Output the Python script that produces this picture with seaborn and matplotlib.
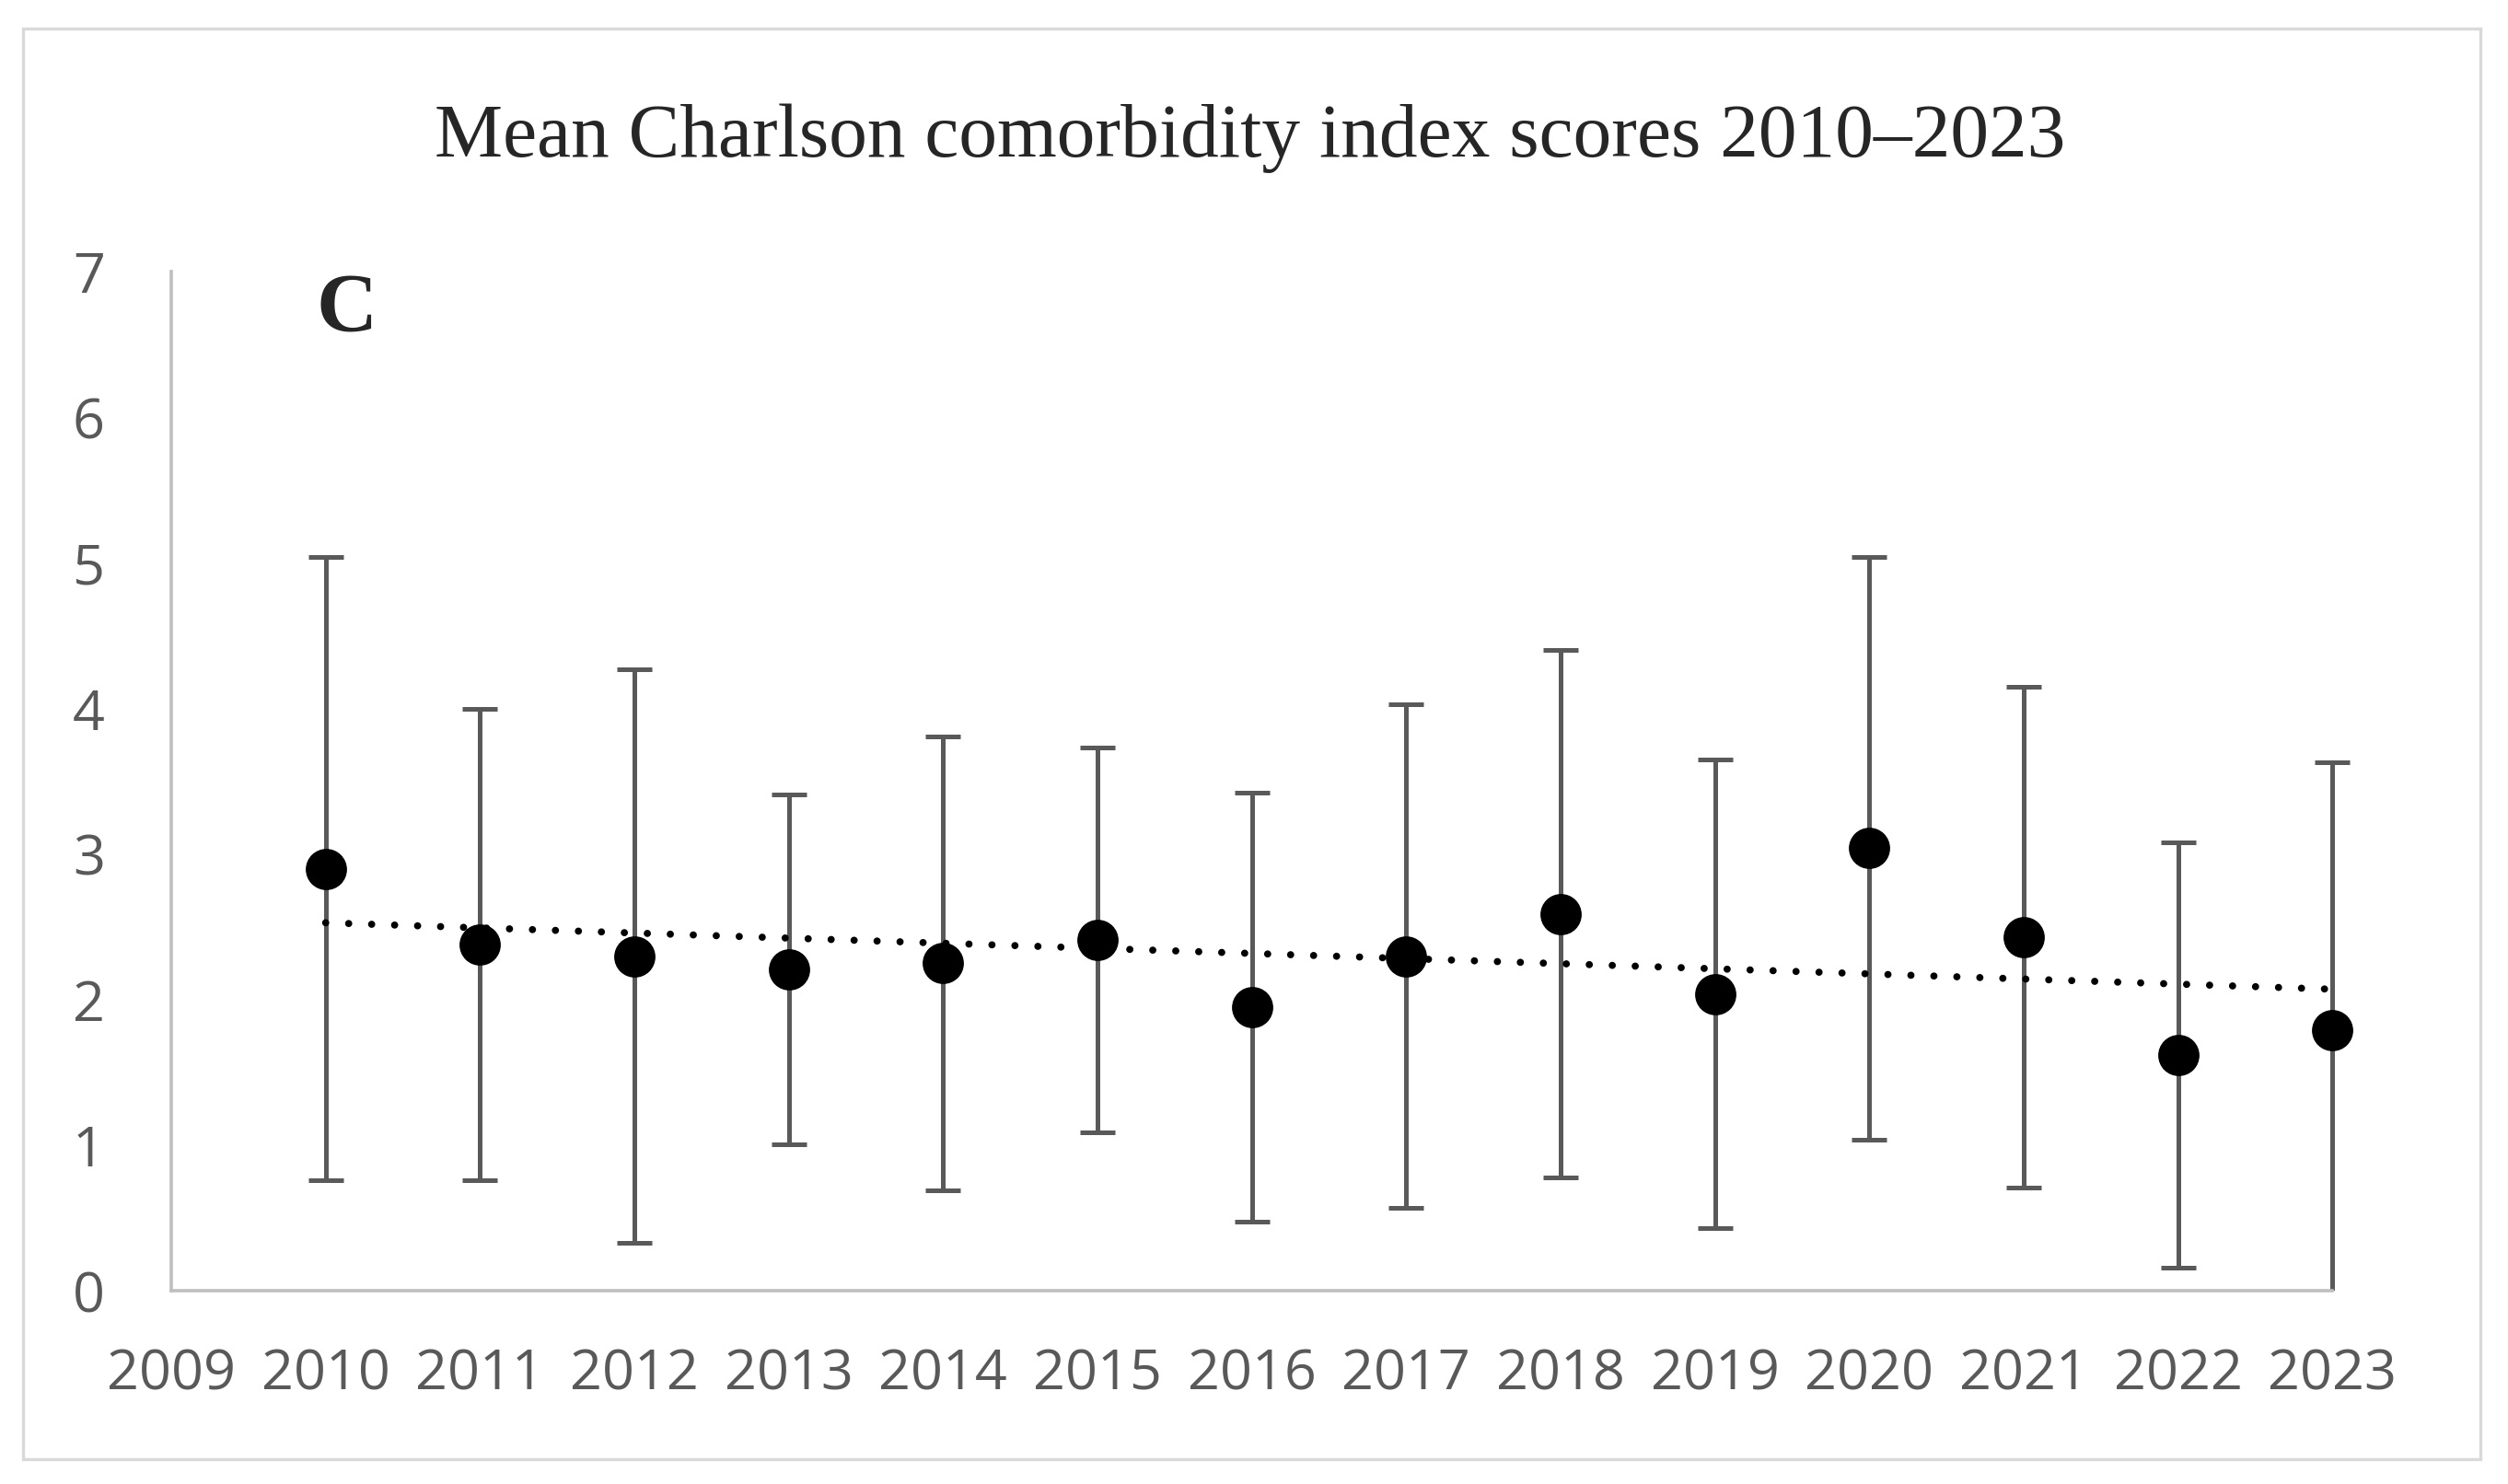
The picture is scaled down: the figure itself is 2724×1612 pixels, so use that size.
import numpy as np
import pandas as pd
import seaborn as sns
import matplotlib.pyplot as plt
from matplotlib.patches import Rectangle

# Values
years = [2010, 2011, 2012, 2013, 2014, 2015, 2016, 2017, 2018, 2019, 2020, 2021, 2022, 2023]
mean_cci = [2.90, 2.38, 2.30, 2.21, 2.25, 2.41, 1.95, 2.30, 2.59, 2.04, 3.04, 2.43, 1.62, 1.79]
sd_cci = [2.14, 1.62, 1.97, 1.20, 1.56, 1.32, 1.47, 1.73, 1.81, 1.61, 2.00, 1.72, 1.46, 1.84]
x_ticks = list(range(2009, 2024))
y_ticks = list(range(0, 8))

df = pd.DataFrame({'year': years, 'mean': mean_cci, 'sd': sd_cci})

sns.set_style('white')
plt.rcParams['font.family'] = ['Open Sans', 'DejaVu Sans']

fig = plt.figure(figsize=(13.62, 8.06), dpi=200)
ax = fig.add_axes([0.0683, 0.130, 0.8617, 0.687])

# error bars (mean +/- SD)
eb = ax.errorbar(df['year'], df['mean'], yerr=df['sd'], fmt='none', ecolor='#595959',
                 elinewidth=1.8, capsize=6.8, capthick=1.8, zorder=2)
# let the last bar show fully at the right edge, still cut at y=0
clip = Rectangle((0, 0), 1.05, 1.0, transform=ax.transAxes)
for part in list(eb[1]) + list(eb[2]):
    part.set_clip_path(clip)

# means
sns.scatterplot(data=df, x='year', y='mean', ax=ax, s=260, color='black',
                edgecolor='black', linewidth=0, zorder=3, clip_on=False)

# linear trend line
sns.regplot(data=df, x='year', y='mean', ax=ax, scatter=False, ci=None, truncate=True,
            line_kws={'color': 'black', 'linewidth': 2.8, 'linestyle': (0, (0.01, 3.2)),
                      'dash_capstyle': 'round', 'zorder': 4})

ax.set_xlim(2009, 2023)
ax.set_ylim(0, 7)
ax.set_xticks(x_ticks)
ax.set_yticks(y_ticks)
ax.set_xlabel('')
ax.set_ylabel('')
ax.tick_params(axis='both', length=0, labelsize=22, labelcolor='#595959')
ax.tick_params(axis='y', pad=26)
ax.tick_params(axis='x', pad=22)

for side in ['top', 'right']:
    ax.spines[side].set_visible(False)
for side in ['left', 'bottom']:
    ax.spines[side].set_color('#BFBFBF')
    ax.spines[side].set_linewidth(1.3)

ax.text(0.081, 0.962, 'C', transform=ax.transAxes, ha='center', va='center',
        fontsize=33, fontweight='bold', family=['Liberation Serif', 'DejaVu Serif'])

fig.text(0.4985, 0.907, 'Mean Charlson comorbidity index scores 2010\u20132023',
         ha='center', va='center', fontsize=30, family=['Liberation Serif', 'DejaVu Serif'])

# outer chart border
fig.patches.append(Rectangle((0.009, 0.017), 0.980, 0.964, transform=fig.transFigure,
                             fill=False, edgecolor='#D9D9D9', linewidth=1.2))

fig.savefig('out.png', dpi=200)
